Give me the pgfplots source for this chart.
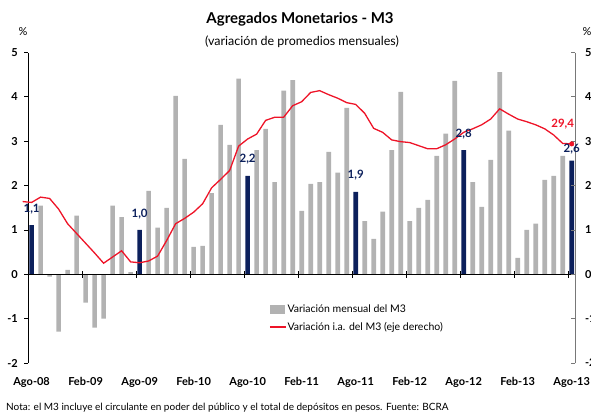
\documentclass[border=0pt]{standalone}
\usepackage{pgfplots}
\pgfplotsset{compat=1.18}
\usepackage{pgfplotstable}
\usepackage{fontspec}
\setmainfont{Lato}
\definecolor{bargray}{RGB}{178,178,178}
\definecolor{navy}{RGB}{12,32,92}
\definecolor{lred}{RGB}{238,20,40}
\definecolor{axgray}{RGB}{120,120,120}

\pgfplotstableread{
x y
1 1.55
2 -0.05
3 -1.29
4 0.10
5 1.32
6 -0.64
7 -1.20
8 -1.00
9 1.55
10 1.29
11 0.05
13 1.88
14 1.05
15 1.50
16 4.02
17 2.60
18 0.62
19 0.64
20 1.83
21 3.37
22 2.92
23 4.41
25 2.80
26 3.28
27 2.08
28 4.14
29 4.38
30 1.43
31 2.04
32 2.08
33 2.76
34 2.29
35 3.75
37 1.20
38 0.80
39 1.41
40 2.80
41 4.11
42 1.20
43 1.50
44 1.68
45 2.67
46 3.17
47 4.36
49 2.08
50 1.52
51 2.58
52 4.56
53 3.24
54 0.37
55 1.00
56 1.14
57 2.13
58 2.22
59 2.67
}\grayBars

\pgfplotstableread{
x y
0 1.11
12 1.00
24 2.22
36 1.86
48 2.80
60 2.56
}\navyBars

\pgfplotstableread{
x y
-1 16.4
0 16.2
1 17.4
2 17.1
3 14.7
4 11.4
5 9.2
6 7.0
7 4.8
8 2.5
9 3.9
10 5.3
11 2.8
12 2.6
13 3.0
14 4.1
15 7.6
16 11.4
17 12.6
18 14.0
19 15.9
20 19.5
21 21.4
22 23.4
23 28.9
24 30.5
25 31.6
26 34.7
27 35.4
28 35.4
29 38.0
30 38.9
31 41.0
32 41.4
33 40.5
34 39.7
35 38.7
36 38.3
37 36.3
38 32.9
39 32.0
40 30.3
41 29.9
42 29.7
43 29.0
44 28.3
45 28.3
46 29.2
47 30.5
48 32.0
49 32.8
50 33.7
51 35.0
52 37.3
53 36.1
54 35.0
55 34.4
56 33.7
57 32.8
58 31.4
59 29.5
60 29.4
}\lineData

\begin{document}
\begin{tikzpicture}
\pgfplotsset{
  base/.style={
    scale only axis,
    width=547.3pt, height=310.5pt,
    at={(28pt,-363pt)}, anchor=south west,
    xmin=-0.4, xmax=60.4,
    /pgf/number format/assume math mode=true,
    tick label style={font=\bfseries\fontsize{11}{13}\selectfont},
  }
}
\begin{axis}[base,
  ymin=-2, ymax=5,
  axis y line*=left,
  axis x line*=bottom,
  x axis line style={draw=none},
  xtick={0,6,...,60},
  xticklabels={Ago-08,Feb-09,Ago-09,Feb-10,Ago-10,Feb-11,Ago-11,Feb-12,Ago-12,Feb-13,Ago-13},
  xtick style={draw=none},
  xticklabel style={inner sep=0pt, anchor=north, yshift=-14pt},
  ytick={-2,-1,...,5},
  ytick align=outside,
  ytick style={black, line width=0.8pt},
  major tick length=4pt,
  y axis line style={black, line width=0.8pt},
  yticklabel style={inner sep=0pt, anchor=east, xshift=-6pt},
  legend style={at={(0.435,0.197)}, anchor=north west, draw=none, fill=none,
    font=\fontsize{10.5}{12}\selectfont, row sep=6pt,
    nodes={inner sep=1pt}},
  legend cell align=left,
]
\addplot[ybar, bar width=4.7pt, bar shift=0pt, fill=bargray, draw=none,
  legend image code/.code={\fill[bargray] (0pt,-4.5pt) rectangle (15pt,4.5pt);}]
  table[x=x,y=y] {\grayBars};
\addlegendentry{Variación mensual del M3}
\addplot[ybar, bar width=4.7pt, bar shift=0pt, fill=navy, draw=none, forget plot]
  table[x=x,y=y] {\navyBars};
\addlegendimage{legend image code/.code={\draw[lred, line width=1.3pt] (0pt,0pt) -- (16pt,0pt);}}
\addlegendentry{Variación i.a. del M3 (eje derecho)}
\draw[black, line width=0.8pt] (axis cs:-0.4,0) -- (axis cs:60.4,0);
\pgfplotsinvokeforeach{5.6,11.6,17.6,23.6,29.6,35.6,41.6,47.6,53.6,59.6}{
  \draw[black, line width=0.8pt] ([yshift=-3.5pt]axis cs:#1,0) -- ([yshift=3.5pt]axis cs:#1,0);
}
\end{axis}
\begin{axis}[base,
  ymin=-20, ymax=50,
  axis y line*=right,
  axis x line=none,
  clip=false,
  ytick={-20,-10,...,50},
  ytick align=inside,
  major tick length=4pt,
  ytick style={axgray, line width=0.8pt},
  y axis line style={axgray, line width=0.8pt},
  yticklabel style={inner sep=0pt, anchor=west, xshift=9.5pt},
]
\addplot[lred, line width=1.3pt, mark=none] table[x=x,y=y] {\lineData};
\addplot[only marks, mark=*, mark size=2.3pt, color=lred]
  coordinates {(60,29.4)};
\node[font=\bfseries\fontsize{11.5}{13}\selectfont, text=lred, inner sep=0pt, anchor=south, xshift=-9pt, yshift=15pt] at (axis cs:60,29.4) {29,4};
\tikzset{vlab/.style={font=\bfseries\fontsize{11.5}{13}\selectfont, text=navy, inner sep=0pt, anchor=south, yshift=11pt}}
\node[vlab] at (axis cs:0,11.1) {1,1};
\node[vlab] at (axis cs:12,10.0) {1,0};
\node[vlab] at (axis cs:24,22.2) {2,2};
\node[vlab] at (axis cs:36,18.6) {1,9};
\node[vlab] at (axis cs:48,28.0) {2,8};
\node[vlab, yshift=-5pt] at (axis cs:60,25.6) {2,6};
\end{axis}
\node[font=\bfseries\fontsize{15}{18}\selectfont] at (300pt,-19pt) {Agregados Monetarios - M3};
\node[font=\fontsize{12.5}{15}\selectfont] at (302pt,-42pt) {(variación de promedios mensuales)};
\node[font=\fontsize{11}{13}\selectfont] at (23pt,-32pt) {\%};
\node[font=\fontsize{11}{13}\selectfont] at (587pt,-32pt) {\%};
\node[font=\fontsize{10}{12}\selectfont, anchor=west, inner sep=0pt] at (6pt,-408pt) {Nota: el M3 incluye el circulante en poder del público y el total de depósitos en pesos. Fuente: BCRA};
\pgfresetboundingbox
\useasboundingbox (0pt,0pt) rectangle (591pt,-414pt);
\end{tikzpicture}
\end{document}
